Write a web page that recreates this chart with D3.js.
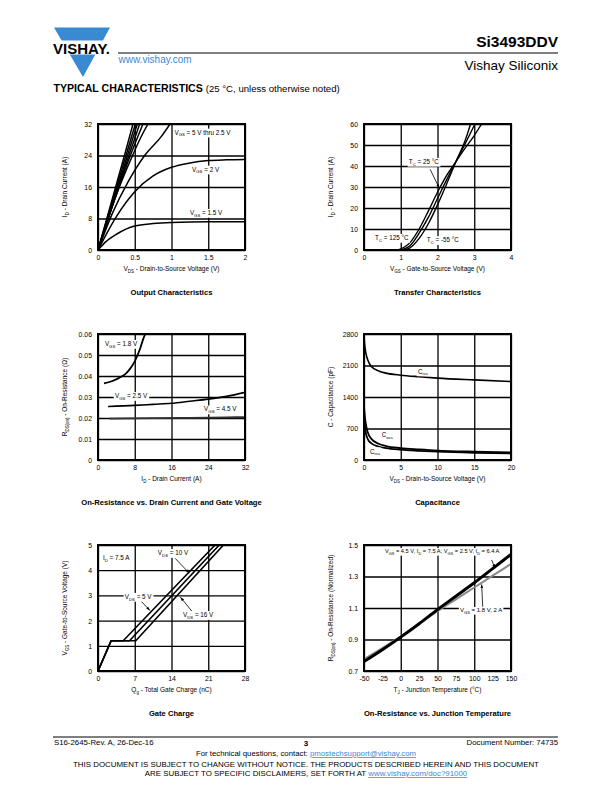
<!DOCTYPE html>
<html><head><meta charset="utf-8">
<script src="https://cdn.jsdelivr.net/npm/d3@7"></script>
<style>
body{margin:0;background:#fff}
svg{display:block}
text{font-family:"Liberation Sans",Arial,Helvetica,sans-serif;fill:#000}
</style>
</head><body>
<svg id="page" width="612" height="792"></svg>
<script>
// ---------------- DATA ----------------
// Output characteristics: [VDS (V), ID (A)]
const outVgs5   = [[0,0],[0.36,24],[0.476,32]];
const outVgs45  = [[0,0],[0.38,24],[0.508,32]];
const outVgs4   = [[0,0],[0.40,24],[0.535,32]];
const outVgs35  = [[0,0],[0.42,24],[0.567,32]];
const outVgs3   = [[0,0],[0.22,12.5],[0.44,24],[0.612,32]];
const outVgs27  = [[0,0],[0.25,14],[0.47,24],[0.58,28.5],[0.68,32]];
const outVgs25  = [[0,0],[0.2,9.5],[0.4,17],[0.635,24],[0.86,28.8],[0.98,32]];
const outVgs2   = [[0,0],[0.25,8.5],[0.5,14.8],[0.75,18.8],[1,21],[1.25,22.1],[1.5,22.7],[1.75,22.9],[2,23]];
const outVgs15  = [[0,0],[0.1,2],[0.25,4],[0.5,6.1],[0.75,6.7],[1,7],[1.5,7.2],[2,7.2]];
const outXTicks = [0,0.5,1,1.5,2];
const outYTicks = [0,8,16,24,32];

// Transfer characteristics: [VGS (V), ID (A)]
const trM55  = [[1.1,0],[1.25,1],[1.5,5.5],[1.75,12.5],[2,21.5],[2.25,31.5],[2.5,42],[2.75,52],[2.9,60]];
const tr25   = [[1.02,0],[1.25,2],[1.5,8],[1.75,15.5],[2,24.5],[2.25,33.5],[2.5,42],[2.75,50.5],[3.02,60]];
const tr125  = [[0.92,0],[1.25,3.5],[1.5,10],[1.75,18.5],[2,27.5],[2.25,35.5],[2.5,42],[2.75,48.5],[3,54.5],[3.2,60]];
const trXTicks = [0,1,2,3,4];
const trYTicks = [0,10,20,30,40,50,60];

// On-resistance vs drain current: [ID (A), RDS(on) (ohm)]
const ronVgs18 = [[1.3,0.0365],[3,0.0375],[4.5,0.039],[6,0.041],[7,0.0435],[8,0.047],[9,0.052],[10,0.0585],[10.3,0.06]];
const ronVgs25 = [[2.2,0.0255],[8,0.026],[12,0.0265],[16,0.027],[20,0.028],[24,0.029],[28,0.0303],[32,0.0322]];
const ronVgs45 = [[2.5,0.0197],[12,0.0199],[20,0.0201],[28,0.0203],[32,0.0204]];
const ronXTicks = [0,8,16,24,32];
const ronYTicks = [0,0.01,0.02,0.03,0.04,0.05,0.06];

// Capacitance: [VDS (V), C (pF)]
const capCiss = [[0,2750],[0.1,2550],[0.25,2380],[0.5,2230],[1,2080],[2,1980],[3,1930],[5,1885],[7.5,1850],[10,1820],[15,1780],[20,1745]];
const capCoss = [[0,1200],[0.1,1000],[0.25,800],[0.5,620],[1,470],[2,360],[3,310],[5,265],[7.5,235],[10,210],[15,185],[20,170]];
const capCrss = [[0,950],[0.1,780],[0.25,600],[0.5,470],[1,370],[2,300],[3,265],[5,230],[7.5,205],[10,185],[15,160],[20,145]];
const capXTicks = [0,5,10,15,20];
const capYTicks = [0,700,1400,2100,2800];

// Gate charge: [Qg (nC), VGS (V)]
const gcVds5  = [[0,0],[2.5,1.2],[4.8,1.2],[22.3,5]];
const gcVds10 = [[0,0],[2.5,1.2],[6,1.2],[23.1,5]];
const gcVds16 = [[0,0],[2.5,1.2],[7.2,1.2],[23.9,5]];
const gcXTicks = [0,7,14,21,28];
const gcYTicks = [0,1,2,3,4,5];

// On-resistance vs junction temperature: [TJ (°C), normalized RDS(on)]
const tjHigh = [[-50,0.76],[-25,0.835],[0,0.915],[25,1.0],[50,1.09],[75,1.175],[100,1.26],[125,1.35],[150,1.44]];
const tjLow  = [[-50,0.775],[-25,0.845],[0,0.92],[25,1.0],[50,1.08],[75,1.155],[100,1.23],[125,1.305],[150,1.38]];
const tjXTicks = [-50,-25,0,25,50,75,100,125,150];
const tjXGrid  = [-50,0,50,100,150];
const tjYTicks = [0.7,0.9,1.1,1.3,1.5];

// ---------------- DRAWING ----------------
const svg = d3.select("#page");
const BLUE = "#3a89d3";
const defs = svg.append("defs");
defs.append("marker").attr("id","arr").attr("viewBox","0 0 10 10").attr("refX",10).attr("refY",5)
  .attr("markerWidth",5).attr("markerHeight",5).attr("orient","auto")
  .append("path").attr("d","M0,1.5L10,5L0,8.5z").attr("fill","#000");

function rich(g, x, y, parts, size, anchor, weight){
  const t = g.append("text").attr("x",x).attr("y",y).attr("font-size",size)
    .attr("text-anchor",anchor||"start");
  if(weight) t.attr("font-weight",weight);
  let sh=false;
  parts.forEach(p=>{
    if(Array.isArray(p)){
      t.append("tspan").attr("font-size",size*0.68).attr("dy",sh?0:size*0.28).text(p[0]); sh=true;
    } else {
      const s=t.append("tspan").text(p);
      if(sh){s.attr("dy",-size*0.28); sh=false;}
    }
  });
  return t;
}
function bg(t,pad){
  const b=t.node().getBBox(); pad=pad==null?1:pad;
  d3.select(t.node().parentNode).insert("rect",()=>t.node())
    .attr("x",b.x-pad).attr("y",b.y).attr("width",b.width+2*pad).attr("height",b.height).attr("fill","#fff");
}

let clipN=0;
function panel(c){
  const x=d3.scaleLinear().domain(c.xd).range([c.x0,c.x1]);
  const y=d3.scaleLinear().domain(c.yd).range([c.y1,c.y0]);
  const g=svg.append("g");
  const h=c.y1-c.y0, w=c.x1-c.x0;
  const gx=g.append("g").attr("transform",`translate(0,${c.y1})`)
    .call(d3.axisBottom(x).tickValues(c.xg||c.xt).tickSize(-h).tickFormat(""));
  const gy=g.append("g").attr("transform",`translate(${c.x0},0)`)
    .call(d3.axisLeft(y).tickValues(c.yt).tickSize(-w).tickFormat(""));
  [gx,gy].forEach(a=>{a.select(".domain").remove(); a.selectAll("line").attr("stroke","#000").attr("stroke-width",1.3);});
  const lx=g.append("g").attr("transform",`translate(0,${c.y1})`)
    .call(d3.axisBottom(x).tickValues(c.xt).tickSize(0).tickPadding(5).tickFormat(c.xf||(d=>String(d))));
  const ly=g.append("g").attr("transform",`translate(${c.x0},0)`)
    .call(d3.axisLeft(y).tickValues(c.yt).tickSize(0).tickPadding(6).tickFormat(c.yf||(d=>String(d))));
  [lx,ly].forEach(a=>{a.select(".domain").remove();
    a.selectAll("text").attr("font-size",6.9).attr("font-family",'"Liberation Sans",Arial,sans-serif').attr("fill","#000");});
  ly.selectAll("text").attr("dy","0.35em");
  const id="clip"+(clipN++);
  defs.append("clipPath").attr("id",id).append("rect").attr("x",c.x0).attr("y",c.y0).attr("width",w).attr("height",h);
  const data=g.append("g").attr("clip-path",`url(#${id})`);
  const ann=g.append("g");
  rich(g,(c.x0+c.x1)/2,c.y1+21,c.xl,6.5,"middle");
  const yl=rich(g,0,0,c.yl,6.5,"middle");
  yl.attr("transform",`translate(${c.x0-31},${(c.y0+c.y1)/2}) rotate(-90)`);
  g.append("text").attr("x",(c.x0+c.x1)/2).attr("y",c.y1+45).attr("text-anchor","middle")
    .attr("font-size",7.6).attr("font-weight","bold").text(c.title);
  const border=g.append("rect").attr("x",c.x0).attr("y",c.y0).attr("width",w).attr("height",h)
    .attr("fill","none").attr("stroke","#000").attr("stroke-width",2);
  return {x,y,data,ann,g,border};
}
function curve(p,arr,opt){
  opt=opt||{};
  const ln=d3.line().x(d=>p.x(d[0])).y(d=>p.y(d[1])).curve(opt.linear?d3.curveLinear:d3.curveMonotoneX);
  p.data.append("path").attr("d",ln(arr)).attr("fill","none").attr("stroke",opt.color||"#000")
    .attr("stroke-width",opt.w||1.6).attr("stroke-linejoin","round");
}
function note(p,xv,yv,parts,size,white){
  const t=rich(p.ann,p.x(xv),p.y(yv),parts,size||6.3);
  if(white!==false) bg(t,1.2);
  return t;
}
function arrow(p,a,b){
  p.ann.append("line").attr("x1",p.x(a[0])).attr("y1",p.y(a[1])).attr("x2",p.x(b[0])).attr("y2",p.y(b[1]))
    .attr("stroke","#000").attr("stroke-width",0.8).attr("marker-end","url(#arr)");
}

// 1. Output characteristics
const p1=panel({x0:98,x1:245,y0:124,y1:250,xd:[0,2],yd:[0,32],xt:outXTicks,yt:outYTicks,
  xl:["V",["DS"]," - Drain-to-Source Voltage (V)"],yl:["I",["D"]," - Drain Current (A)"],title:"Output Characteristics"});
[outVgs5,outVgs45,outVgs4,outVgs35,outVgs3,outVgs27,outVgs25,outVgs2,outVgs15].forEach(s=>curve(p1,s,{w:1.5}));
note(p1,1.04,29.3,["V",["GS"]," = 5 V thru 2.5 V"]);
note(p1,1.28,19.9,["V",["GS"]," = 2 V"]);
note(p1,1.25,8.9,["V",["GS"]," = 1.5 V"]);

// 2. Transfer characteristics
const p2=panel({x0:364,x1:511,y0:124,y1:250,xd:[0,4],yd:[0,60],xt:trXTicks,yt:trYTicks,
  xl:["V",["GS"]," - Gate-to-Source Voltage (V)"],yl:["I",["D"]," - Drain Current (A)"],title:"Transfer Characteristics"});
[trM55,tr25,tr125].forEach(s=>curve(p2,s,{w:1.4}));
note(p2,1.22,41,["T",["C"]," = 25 °C"]);
arrow(p2,[1.8,38.4],[2.05,29.4]);
note(p2,0.3,4.8,["T",["C"]," = 125 °C"]);
note(p2,1.71,3.7,["T",["C"]," = -55 °C"]);

// 3. On-resistance vs drain current
const p3=panel({x0:98,x1:245,y0:334,y1:460,xd:[0,32],yd:[0,0.06],xt:ronXTicks,yt:ronYTicks,
  xl:["I",["D"]," - Drain Current (A)"],yl:["R",["DS(on)"]," - On-Resistance (Ω)"],
  title:"On-Resistance vs. Drain Current and Gate Voltage"});
curve(p3,ronVgs18,{w:1.8});
curve(p3,ronVgs25,{w:1.6});
curve(p3,ronVgs45,{w:1.8,color:"#333"});
note(p3,1.5,0.0543,["V",["GS"]," = 1.8 V"]);
note(p3,3.7,0.0295,["V",["GS"]," = 2.5 V"]);
note(p3,23.1,0.0231,["V",["GS"]," = 4.5 V"]);

// 4. Capacitance
const p4=panel({x0:364,x1:511,y0:334,y1:460,xd:[0,20],yd:[0,2800],xt:capXTicks,yt:capYTicks,
  xl:["V",["DS"]," - Drain-to-Source Voltage (V)"],yl:["C - Capacitance (pF)"],title:"Capacitance"});
curve(p4,capCiss,{w:1.6});
curve(p4,capCoss,{w:1.8});
curve(p4,capCrss,{w:1.8});
note(p4,7.35,1922,["C",["iss"]]);
note(p4,2.4,511,["C",["oss"]]);
note(p4,0.8,144,["C",["rss"]]);

// 5. Gate charge
const p5=panel({x0:98,x1:245,y0:545,y1:671,xd:[0,28],yd:[0,5],xt:gcXTicks,yt:gcYTicks,
  xl:["Q",["g"]," - Total Gate Charge (nC)"],yl:["V",["GS"]," - Gate-to-Source Voltage (V)"],title:"Gate Charge"});
[gcVds5,gcVds10,gcVds16].forEach(s=>curve(p5,s,{w:1.6,linear:true}));
note(p5,0.95,4.4,["I",["D"]," = 7.5 A"]);
note(p5,11.4,4.6,["V",["DS"]," = 10 V"]);
arrow(p5,[14.7,4.47],[17.4,3.88]);
note(p5,5.1,2.86,["V",["DS"]," = 5 V"]);
arrow(p5,[8.3,2.75],[9.9,2.4]);
note(p5,16.2,2.14,["V",["DS"]," = 16 V"]);
arrow(p5,[17.85,2.38],[15.7,2.93]);

// 6. On-resistance vs junction temperature
const p6=panel({x0:364,x1:511,y0:545,y1:671,xd:[-50,150],yd:[0.7,1.5],xt:tjXTicks,xg:tjXGrid,yt:tjYTicks,
  xl:["T",["J"]," - Junction Temperature (°C)"],yl:["R",["DS(on)"]," - On-Resistance (Normalized)"],
  title:"On-Resistance vs. Junction Temperature"});
curve(p6,tjLow,{w:2,color:"#8a8a8a"});
curve(p6,tjHigh,{w:3});
note(p6,-21.4,1.449,["V",["GS"]," = 4.5 V, I",["D"]," = 7.5 A; V",["GS"]," = 2.5 V, I",["D"]," = 6.4 A"],5.7);
arrow(p6,[123.7,1.405],[128.2,1.352]);
note(p6,80.6,1.075,["V",["GS"]," = 1.8 V, 2 A"],6);
arrow(p6,[111.5,1.108],[110.1,1.25]);

// ---------------- HEADER / FOOTER ----------------
const hd=svg.append("g");
hd.append("polygon").attr("points","54,27.5 110,27.5 83,77").attr("fill",BLUE);
hd.append("rect").attr("x",40).attr("y",40.5).attr("width",74).attr("height",14).attr("fill","#fff");
hd.append("text").attr("x",53).attr("y",53.5).attr("font-size",14.5).attr("font-weight","bold")
  .attr("textLength",57).attr("lengthAdjust","spacingAndGlyphs").text("VISHAY.");
hd.append("line").attr("x1",118).attr("x2",558).attr("y1",53).attr("y2",53).attr("stroke","#000").attr("stroke-width",1.2);
hd.append("text").attr("x",558).attr("y",46.5).attr("text-anchor","end").attr("font-size",15.5).attr("font-weight","bold").text("Si3493DDV");
hd.append("text").attr("x",118.5).attr("y",63).attr("font-size",10).style("fill",BLUE).text("www.vishay.com");
hd.append("text").attr("x",558).attr("y",69.5).attr("text-anchor","end").attr("font-size",13.5).text("Vishay Siliconix");
const tc=hd.append("text").attr("x",53.5).attr("y",91.5).attr("font-size",10.6);
tc.append("tspan").attr("font-weight","900").text("TYPICAL CHARACTERISTICS ");
tc.append("tspan").attr("font-size",9.6).text("(25 °C, unless otherwise noted)");

const ft=svg.append("g");
ft.append("line").attr("x1",53).attr("x2",558).attr("y1",737).attr("y2",737).attr("stroke","#000").attr("stroke-width",1);
ft.append("text").attr("x",54).attr("y",745).attr("font-size",7.8).text("S16-2645-Rev. A, 26-Dec-16");
ft.append("text").attr("x",306).attr("y",745.5).attr("font-size",8).attr("font-weight","bold").attr("text-anchor","middle").text("3");
ft.append("text").attr("x",558).attr("y",745).attr("font-size",7.8).attr("text-anchor","end").text("Document Number: 74735");
const f2=ft.append("text").attr("x",306).attr("y",756).attr("font-size",7.8).attr("text-anchor","middle");
f2.append("tspan").text("For technical questions, contact: ");
f2.append("tspan").style("fill",BLUE).attr("text-decoration","underline").text("pmostechsupport@vishay.com");
ft.append("text").attr("x",306).attr("y",767).attr("font-size",7.9).attr("text-anchor","middle")
  .text("THIS DOCUMENT IS SUBJECT TO CHANGE WITHOUT NOTICE. THE PRODUCTS DESCRIBED HEREIN AND THIS DOCUMENT");
const f4=ft.append("text").attr("x",306).attr("y",776).attr("font-size",7.9).attr("text-anchor","middle");
f4.append("tspan").text("ARE SUBJECT TO SPECIFIC DISCLAIMERS, SET FORTH AT ");
f4.append("tspan").style("fill",BLUE).attr("text-decoration","underline").text("www.vishay.com/doc?91000");
</script>
</body></html>
